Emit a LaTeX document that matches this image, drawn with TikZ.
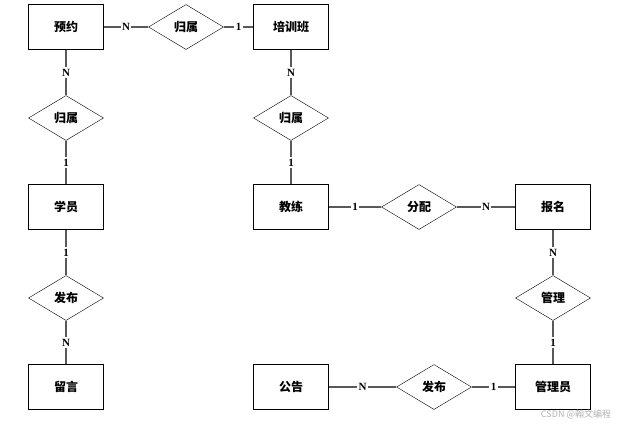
\documentclass[tikz,border=0pt]{standalone}
\usepackage{fontspec}
\usepackage{tikz}
\usetikzlibrary{shapes.geometric}
\newfontfamily\cjk{Noto Sans CJK SC}
\newfontfamily\cardfont{Liberation Serif}

\begin{document}
\begin{tikzpicture}[x=1pt,y=-1pt]
    \tikzset{entidad/.style = {shape=rectangle,draw,minimum width=75pt,minimum height=45pt,font=\cjk\bfseries\fontsize{12}{14}\selectfont}}
    \tikzset{relacion/.style = {shape=diamond,draw,aspect=1.67,inner sep=0pt,minimum width=75pt,minimum height=45pt,font=\cjk\bfseries\fontsize{12}{14}\selectfont}}
    \tikzset{linea/.style = {draw=black!65,line width=1.1pt}}
    \tikzset{card/.style = {fill=white,inner sep=1.5pt,font=\cardfont\bfseries\fontsize{11}{12}\selectfont}}

    \useasboundingbox (0,0) rectangle (626,426);

    \node[entidad] (yuyue) at (66,27) {预约};
    \node[relacion] (guishu1) at (186,27) {归属};
    \node[entidad] (peixunban) at (291,27) {培训班};

    \node[relacion] (guishu2) at (66,118) {归属};
    \node[relacion] (guishu3) at (291,118) {归属};

    \node[entidad] (xueyuan) at (66,207) {学员};
    \node[entidad] (jiaolian) at (291,207) {教练};
    \node[relacion] (fenpei) at (419,207) {分配};
    \node[entidad] (baoming) at (553,207) {报名};

    \node[relacion] (fabu1) at (66,298) {发布};
    \node[relacion] (guanli) at (553,298) {管理};

    \node[entidad] (liuyan) at (66,387) {留言};
    \node[entidad] (gonggao) at (291,387) {公告};
    \node[relacion] (fabu2) at (434,387) {发布};
    \node[entidad] (guanliyuan) at (553,387) {管理员};

    \draw [linea] (yuyue) to node[card] {N} (guishu1);
    \draw [linea] (guishu1) to node[card] {1} (peixunban);

    \draw [linea] (yuyue) to node[card] {N} (guishu2);
    \draw [linea] (guishu2) to node[card] {1} (xueyuan);
    \draw [linea] (peixunban) to node[card] {N} (guishu3);
    \draw [linea] (guishu3) to node[card] {1} (jiaolian);

    \draw [linea] (xueyuan) to node[card] {1} (fabu1);
    \draw [linea] (fabu1) to node[card] {N} (liuyan);

    \draw [linea] (jiaolian) to node[card] {1} (fenpei);
    \draw [linea] (fenpei) to node[card] {N} (baoming);

    \draw [linea] (baoming) to node[card] {N} (guanli);
    \draw [linea] (guanli) to node[card] {1} (guanliyuan);

    \draw [linea] (gonggao) to node[card] {N} (fabu2);
    \draw [linea] (fabu2) to node[card] {1} (guanliyuan);

    \node[text=black!30,font=\cjk\fontsize{9}{10}\selectfont] (marca) at (576,414) {CSDN @翰文编程};
\end{tikzpicture}
\end{document}
